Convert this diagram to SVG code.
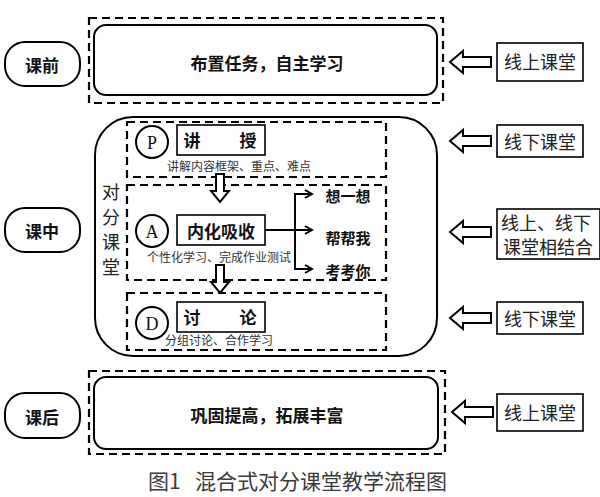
<svg xmlns="http://www.w3.org/2000/svg" width="600" height="497" viewBox="0 0 600 497">
<defs>
<style>
.oval{fill:#fff;stroke:#000;stroke-width:2}
.dash{fill:none;stroke:#000;stroke-width:2.2;stroke-dasharray:8 5}
.rbox{fill:#fff;stroke:#000;stroke-width:2}
.sbox{fill:#fff;stroke:#000;stroke-width:1.6}
.harrow{fill:#fff;stroke:#000;stroke-width:2;stroke-linejoin:miter}
.ln{fill:none;stroke:#000;stroke-width:2}
.b{font-family:"Noto Sans CJK SC","Noto Sans",sans-serif;font-weight:bold;fill:#111;text-anchor:middle;dominant-baseline:central}
.n{font-family:"Noto Sans CJK SC","Noto Sans",sans-serif;font-weight:normal;fill:#222;text-anchor:middle;dominant-baseline:central}
.s{font-family:"Noto Sans CJK SC","Noto Sans",sans-serif;font-size:12px;fill:#333;text-anchor:middle;dominant-baseline:central}
.l{font-family:"Liberation Serif",serif;font-size:18px;fill:#111;text-anchor:middle;dominant-baseline:central}
.cap{font-family:"Noto Sans CJK SC","Noto Sans",sans-serif;font-size:21px;fill:#3a3a3a;dominant-baseline:central}
</style>
<marker id="ah" markerWidth="10" markerHeight="10" refX="8" refY="5" orient="auto" markerUnits="userSpaceOnUse">
<path d="M1,1 L8,5 L1,9" fill="none" stroke="#000" stroke-width="2"/>
</marker>
<path id="larrow" d="M0,0 L13,-11 L13,-5 L41,-5 L41,5 L13,5 L13,11 Z"/>
<path id="darrow" d="M-4,0 L4,0 L4,17 L9,17 L0,28 L-9,17 L-4,17 Z"/>
</defs>

<!-- Stage labels -->
<g id="stage-pre"><rect class="oval" x="5" y="42" width="75" height="44" rx="20"/><text class="b" x="42" y="64" font-size="17">课前</text></g>
<g id="stage-mid"><rect class="oval" x="5" y="208" width="75" height="44" rx="20"/><text class="b" x="42" y="230" font-size="17">课中</text></g>
<g id="stage-post"><rect class="oval" x="5" y="393" width="75" height="45" rx="20"/><text class="b" x="42" y="416" font-size="17">课后</text></g>

<!-- Pre-class -->
<g id="pre-task">
<rect class="dash" x="89" y="18" width="354" height="85"/>
<rect class="rbox" x="94" y="25" width="343" height="70" rx="12"/>
<text class="b" x="267" y="62" font-size="17">布置任务，自主学习</text>
</g>

<!-- In-class -->
<g id="mid-class">
<rect class="rbox" x="95" y="117" width="342" height="239" rx="38"/>
<text class="n" x="111" y="191" font-size="18">对</text>
<text class="n" x="111" y="216" font-size="18">分</text>
<text class="n" x="111" y="241" font-size="18">课</text>
<text class="n" x="111" y="266" font-size="18">堂</text>
</g>

<g id="phase-p">
<rect class="dash" x="127" y="122" width="259" height="55"/>
<circle class="oval" cx="152" cy="142" r="16"/><text class="l" x="152" y="143">P</text>
<rect class="sbox" x="177" y="125" width="88" height="30"/>
<text class="b" x="192" y="139" font-size="17">讲</text>
<text class="b" x="248" y="139" font-size="17">授</text>
<text class="s" x="239" y="165">讲解内容框架、重点、难点</text>
</g>

<g id="phase-a">
<rect class="dash" x="127" y="185" width="259" height="95"/>
<circle class="oval" cx="152" cy="231" r="16"/><text class="l" x="152" y="232">A</text>
<rect class="sbox" x="177" y="215" width="88" height="30"/>
<text class="b" x="221" y="230" font-size="17">内化吸收</text>
<text class="s" x="219" y="256">个性化学习、完成作业测试</text>
<text class="b" x="348" y="195" font-size="15">想一想</text>
<text class="b" x="348" y="237" font-size="15">帮帮我</text>
<text class="b" x="348" y="270" font-size="15">考考你</text>
</g>

<g id="phase-d">
<rect class="dash" x="127" y="293" width="259" height="57"/>
<circle class="oval" cx="152" cy="323" r="16"/><text class="l" x="152" y="324">D</text>
<rect class="sbox" x="177" y="302" width="88" height="30"/>
<text class="b" x="192" y="316" font-size="17">讨</text>
<text class="b" x="248" y="316" font-size="17">论</text>
<text class="s" x="219" y="339">分组讨论、合作学习</text>
</g>

<!-- Post-class -->
<g id="post-task">
<rect class="dash" x="89" y="371" width="356" height="83"/>
<rect class="rbox" x="94" y="377" width="344" height="72" rx="12"/>
<text class="b" x="267" y="414" font-size="17">巩固提高，拓展丰富</text>
</g>

<!-- Mode boxes -->
<g id="mode-1"><rect class="sbox" x="497" y="43" width="86" height="38"/><text class="n" x="540" y="61" font-size="18">线上课堂</text></g>
<g id="mode-2"><rect class="sbox" x="497" y="125" width="86" height="32"/><text class="n" x="540" y="141" font-size="18">线下课堂</text></g>
<g id="mode-3"><rect class="sbox" x="497" y="209" width="103" height="50"/><text class="n" x="546" y="222" font-size="18">线上、线下</text><text class="n" x="548" y="246" font-size="18">课堂相结合</text></g>
<g id="mode-4"><rect class="sbox" x="497" y="302" width="86" height="32"/><text class="n" x="540" y="318" font-size="18">线下课堂</text></g>
<g id="mode-5"><rect class="sbox" x="497" y="394" width="86" height="37"/><text class="n" x="540" y="412" font-size="18">线上课堂</text></g>

<!-- Connectors -->
<g id="connectors">
<use href="#larrow" class="harrow" transform="translate(450,62)"/>
<use href="#larrow" class="harrow" transform="translate(450,141)"/>
<use href="#larrow" class="harrow" transform="translate(450,232)"/>
<use href="#larrow" class="harrow" transform="translate(450,318)"/>
<use href="#larrow" class="harrow" transform="translate(452,412)"/>
<use href="#darrow" class="harrow" transform="translate(220,174)"/>
<use href="#darrow" class="harrow" transform="translate(220,265)"/>
<path class="ln" d="M265,230 L295,230"/>
<path class="ln" d="M295,194 L295,269"/>
<path class="ln" d="M294,194 L312,194" marker-end="url(#ah)"/>
<path class="ln" d="M295,230 L312,230" marker-end="url(#ah)"/>
<path class="ln" d="M294,269 L312,269" marker-end="url(#ah)"/>
</g>

<text class="cap" x="148" y="480">图1<tspan x="195">混合式对分课堂教学流程图</tspan></text>
</svg>
